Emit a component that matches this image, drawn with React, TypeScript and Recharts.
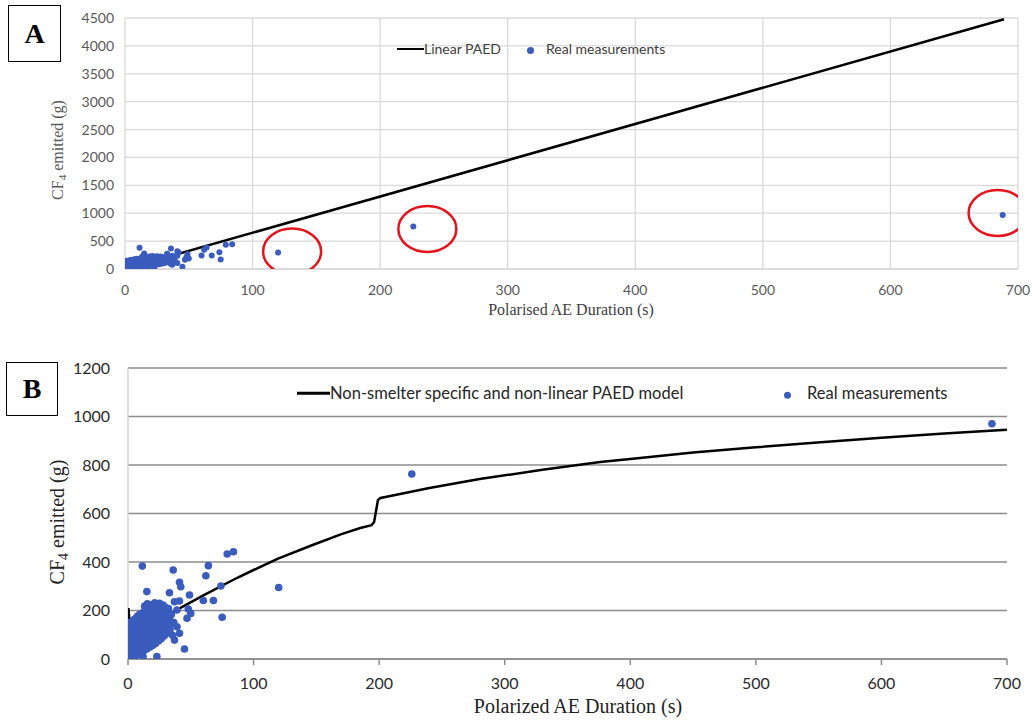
import React from "react";
import {
  CartesianGrid,
  Scatter,
  ScatterChart,
  XAxis,
  YAxis,
} from "recharts";

// Polarised AE duration (s) vs CF4 emitted (g).
const clusterPairs: [number, number][] = [
  [0.2, 4], [0.4, 18], [0.3, 35], [0.6, 52], [0.5, 70], [0.3, 88], [0.7, 104], [0.4, 121], [0.8, 138], [0.5, 150],
  [1.3, 10], [1.6, 28], [1.1, 45], [1.9, 62], [1.4, 80], [1.7, 96], [1.2, 113], [2.0, 130], [1.5, 146],
  [2.6, 2], [2.9, 22], [2.4, 40], [3.1, 57], [2.7, 75], [3.4, 92], [2.8, 108], [3.2, 125], [2.5, 141], [3.6, 156],
  [4.1, 8], [4.5, 26], [3.9, 44], [4.8, 61], [4.3, 79], [5.0, 97], [4.6, 114], [4.0, 132], [5.2, 148], [4.7, 162],
  [5.7, 14], [6.1, 33], [5.5, 50], [6.4, 68], [5.9, 86], [6.7, 104], [6.2, 121], [5.8, 139], [6.9, 155], [6.3, 168],
  [7.4, 18], [7.8, 38], [7.2, 56], [8.1, 74], [7.6, 92], [8.4, 110], [7.9, 128], [8.7, 145], [8.2, 161], [7.5, 176],
  [9.2, 24], [9.6, 44], [9.0, 62], [9.9, 80], [9.4, 98], [10.2, 116], [9.7, 134], [10.5, 151], [10.0, 168], [9.3, 184],
  [11.0, 30], [11.5, 50], [10.9, 69], [11.8, 88], [11.2, 106], [12.1, 124], [11.6, 142], [12.4, 160], [11.9, 177], [12.7, 195],
  [13.1, 36], [13.6, 57], [13.0, 76], [13.9, 95], [13.4, 114], [14.2, 132], [13.7, 150], [14.5, 168], [14.0, 186], [14.8, 204], [13.3, 218],
  [15.2, 42], [15.7, 63], [15.1, 84], [16.0, 103], [15.5, 122], [16.3, 141], [15.8, 159], [16.6, 178], [16.1, 196], [16.9, 213], [15.4, 228],
  [17.4, 50], [17.9, 71], [17.3, 92], [18.2, 111], [17.7, 130], [18.5, 150], [18.0, 169], [18.8, 188], [18.3, 206], [19.1, 224],
  [19.6, 56], [20.1, 78], [19.5, 99], [20.4, 119], [19.9, 139], [20.7, 158], [20.2, 178], [21.0, 197], [20.5, 215], [21.3, 232],
  [21.9, 64], [22.4, 86], [21.8, 107], [22.7, 127], [22.2, 147], [23.0, 167], [22.5, 187], [23.3, 205], [22.8, 222],
  [24.2, 74], [24.7, 95], [24.1, 116], [25.0, 136], [24.5, 156], [25.3, 176], [24.8, 196], [25.6, 214], [25.1, 230],
  [26.5, 84], [27.0, 105], [26.4, 126], [27.3, 146], [26.8, 166], [27.6, 186], [27.1, 205], [27.9, 222],
  [28.8, 95], [29.3, 116], [28.7, 137], [29.6, 157], [29.1, 177], [29.9, 196], [29.4, 214],
  [31.0, 106], [31.6, 128], [30.9, 149], [31.9, 170], [31.3, 190], [32.2, 208],
  [33.4, 120], [34.0, 142], [33.2, 162], [34.5, 184], [35.5, 98], [36.5, 150],
  [3, 0], [12, 10], [23, 10],
];

const outlierPairs: [number, number][] = [
  [11.4, 383], [36, 367], [64, 385], [79, 433], [84, 442], [62, 343], [41, 316], [42, 298],
  [15, 278], [33, 273], [49, 264], [74, 301], [60, 241], [68, 241], [48, 206], [50, 188],
  [47, 168], [75, 172], [41, 106], [45, 41], [39, 202], [37, 236], [41, 239], [39, 133], [37, 78],
  [120, 295], [226, 763], [688, 970],
];

// Linear PAED (panel A)
const linearPaed = [
  { x: 0, y: 0 },
  { x: 689, y: 4478 },
];

// Non-smelter specific, non-linear PAED model (panel B)
const nonLinearPaed = [
  { x: 0, y: 0 }, { x: 0.3, y: 210 }, { x: 2, y: 110 }, { x: 15, y: 140 }, { x: 36, y: 194 },
  { x: 60, y: 262 }, { x: 87, y: 335 }, { x: 100, y: 367 }, { x: 119, y: 413 }, { x: 147, y: 470 },
  { x: 170, y: 515 }, { x: 185, y: 540 }, { x: 194, y: 552 }, { x: 196, y: 565 }, { x: 199, y: 655 },
  { x: 201, y: 664 }, { x: 205, y: 668 }, { x: 240, y: 705 }, { x: 280, y: 742 }, { x: 330, y: 780 },
  { x: 376, y: 812 }, { x: 400, y: 825 }, { x: 450, y: 852 }, { x: 500, y: 873 }, { x: 549, y: 893 },
  { x: 600, y: 912 }, { x: 650, y: 930 }, { x: 700, y: 945 },
];

// red circles drawn round the outliers in panel A
const highlightsA = [
  { x: 131, y: 314 },
  { x: 237, y: 717 },
  { x: 684, y: 1004 },
];

const xTicks = [0, 100, 200, 300, 400, 500, 600, 700];
const yTicksA = [0, 500, 1000, 1500, 2000, 2500, 3000, 3500, 4000, 4500];
const yTicksB = [0, 200, 400, 600, 800, 1000, 1200];

const measured = [...clusterPairs, ...outlierPairs].map(([x, y]) => ({ x, y }));

const BLUE = "#3a5cbd";
const SANS = "Lato, 'Liberation Sans', sans-serif";
const SERIF = "'Liberation Serif', 'Times New Roman', serif";

const none = () => <g />;
const dot = (r: number) => (p: any) => <circle cx={p.cx} cy={p.cy} r={r} fill={BLUE} />;
const ellipse = (p: any) => (
  <ellipse cx={p.cx} cy={p.cy} rx={29} ry={23} fill="none" stroke="#e3141b" strokeWidth={2.5} />
);

function PanelBox({ left, top, w, h, label }: { left: number; top: number; w: number; h: number; label: string }) {
  return (
    <div
      style={{
        position: "absolute", left, top, width: w, height: h, boxSizing: "border-box",
        border: "1.5px solid #000", display: "flex", alignItems: "center", justifyContent: "center",
        fontFamily: SERIF, fontWeight: "bold", fontSize: 28, color: "#000",
      }}
    >
      {label}
    </div>
  );
}

function YTitle({ cx, cy, size, color }: { cx: number; cy: number; size: number; color: string }) {
  return (
    <div
      style={{
        position: "absolute", left: cx, top: cy, transform: "translate(-50%,-50%) rotate(-90deg)",
        whiteSpace: "nowrap", fontFamily: SERIF, fontSize: size, color, lineHeight: 1,
      }}
    >
      CF<span style={{ fontSize: "0.7em", verticalAlign: "-0.3em" }}>4</span> emitted (g)
    </div>
  );
}

function LegendItem({ left, top, kind, label, size, color, gap }: any) {
  return (
    <div
      style={{
        position: "absolute", left, top, transform: "translateY(-50%)", display: "flex",
        alignItems: "center", whiteSpace: "nowrap", fontFamily: SANS, fontSize: size, color, lineHeight: 1,
      }}
    >
      {kind === "line" ? (
        <span style={{ display: "inline-block", width: gap, height: 2.5, background: "#000" }} />
      ) : (
        <span style={{ display: "inline-block", width: gap, textAlign: "left" }}>
          <span style={{ display: "inline-block", width: 7, height: 7, borderRadius: "50%", background: BLUE }} />
        </span>
      )}
      <span>{label}</span>
    </div>
  );
}

export default function App() {
  return (
    <div style={{ position: "absolute", left: 0, top: 0, width: 1032, height: 720, background: "#fff", overflow: "hidden" }}>
      {/* Panel A */}
      <div style={{ position: "absolute", left: 0, top: 0 }}>
        <ScatterChart width={1032} height={330} margin={{ top: 18, right: 14, bottom: 31, left: 60 }}>
          <CartesianGrid stroke="#d9d9d9" strokeWidth={1.3} />
          <XAxis
            type="number" dataKey="x" domain={[0, 700]} ticks={xTicks} height={30}
            axisLine={{ stroke: "#d9d9d9", strokeWidth: 1.5 }} tickLine={false} tickMargin={10}
            tick={{ fill: "#595959", fontSize: 14, fontFamily: SANS }} allowDataOverflow
          />
          <YAxis
            type="number" dataKey="y" domain={[0, 4500]} ticks={yTicksA} width={65}
            axisLine={false} tickLine={false} tickMargin={5}
            tick={{ fill: "#595959", fontSize: 14, fontFamily: SANS }} allowDataOverflow
          />
          <Scatter data={linearPaed} line={{ stroke: "#000", strokeWidth: 2.5 }} shape={none} isAnimationActive={false} />
          <Scatter data={measured} shape={dot(3)} isAnimationActive={false} />
          <Scatter data={highlightsA} shape={ellipse} isAnimationActive={false} />
        </ScatterChart>
      </div>
      <PanelBox left={8} top={5} w={53} h={57} label="A" />
      <YTitle cx={59} cy={150} size={16} color="#595959" />
      <div style={{ position: "absolute", left: 571, top: 310, transform: "translate(-50%,-50%)", fontFamily: SERIF, fontSize: 16, color: "#404040", whiteSpace: "nowrap", lineHeight: 1 }}>
        Polarised AE Duration (s)
      </div>
      <LegendItem left={397} top={49} kind="line" gap={27} label="Linear PAED" size={14} color="#404040" />
      <LegendItem left={527} top={49} kind="dot" gap={19} label="Real measurements" size={14} color="#404040" />

      {/* Panel B */}
      <div style={{ position: "absolute", left: 0, top: 350 }}>
        <ScatterChart width={1032} height={370} margin={{ top: 18, right: 25, bottom: 31, left: 60 }}>
          <CartesianGrid stroke="#8c8c8c" strokeWidth={1.3} vertical={false} />
          <XAxis
            type="number" dataKey="x" domain={[0, 700]} ticks={xTicks} height={30}
            axisLine={{ stroke: "#8c8c8c", strokeWidth: 1.5 }} tickLine={{ stroke: "#8c8c8c", strokeWidth: 1.5 }}
            tickSize={6} tickMargin={13} tick={{ fill: "#2b2b2b", fontSize: 16, fontFamily: SANS }} allowDataOverflow
          />
          <YAxis
            type="number" dataKey="y" domain={[0, 1200]} ticks={yTicksB} width={68}
            axisLine={{ stroke: "#d0d0d0", strokeWidth: 1.3 }} tickLine={false} tickMargin={12}
            tick={{ fill: "#2b2b2b", fontSize: 16, fontFamily: SANS }} allowDataOverflow
          />
          <Scatter data={nonLinearPaed} line={{ stroke: "#000", strokeWidth: 2.5 }} shape={none} isAnimationActive={false} />
          <Scatter data={measured} shape={dot(3.8)} isAnimationActive={false} />
        </ScatterChart>
      </div>
      <PanelBox left={6} top={362} w={52} h={54} label="B" />
      <YTitle cx={59} cy={522} size={20} color="#222" />
      <div style={{ position: "absolute", left: 578, top: 706, transform: "translate(-50%,-50%)", fontFamily: SERIF, fontSize: 20, color: "#222", whiteSpace: "nowrap", lineHeight: 1 }}>
        Polarized AE Duration (s)
      </div>
      <LegendItem left={297} top={393} kind="line" gap={33} label="Non-smelter specific and non-linear PAED model" size={16.5} color="#262626" />
      <LegendItem left={784} top={393} kind="dot" gap={23} label="Real measurements" size={16.5} color="#262626" />
    </div>
  );
}
